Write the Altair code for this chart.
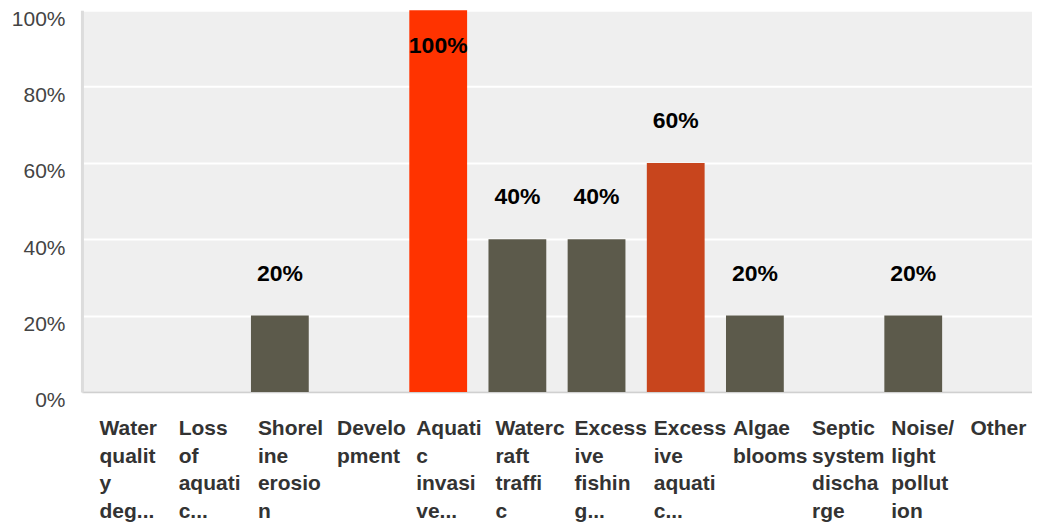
import altair as alt
import pandas as pd

# Category labels, as the wrapped lines shown under each bar
label_lines = [
    ["Water", "qualit", "y", "deg..."],
    ["Loss", "of", "aquati", "c..."],
    ["Shorel", "ine", "erosio", "n"],
    ["Develo", "pment"],
    ["Aquati", "c", "invasi", "ve..."],
    ["Waterc", "raft", "traffi", "c"],
    ["Excess", "ive", "fishin", "g..."],
    ["Excess", "ive", "aquati", "c..."],
    ["Algae", "blooms"],
    ["Septic", "system", "discha", "rge"],
    ["Noise/", "light", "pollut", "ion"],
    ["Other"],
]
values = [0.0, 0.0, 0.2, 0.0, 1.0, 0.4, 0.4, 0.6, 0.2, 0.0, 0.2, 0.0]
bar_colors = ["#5c5a4b", "#5c5a4b", "#5c5a4b", "#5c5a4b", "#ff3300", "#5c5a4b",
              "#5c5a4b", "#c8451d", "#5c5a4b", "#5c5a4b", "#5c5a4b", "#5c5a4b"]
y_ticks = [0.0, 0.1, 0.2, 0.3, 0.4, 0.5, 0.6, 0.7, 0.8, 0.9, 1.0]

cats = ["|".join(l) for l in label_lines]
df = pd.DataFrame({"category": cats, "value": values})

FONT = "Liberation Sans, Arial, sans-serif"

x_enc = alt.X(
    "category:N",
    sort=cats,
    scale=alt.Scale(paddingInner=0.27, paddingOuter=0.135),
    axis=alt.Axis(
        title=None,
        labelExpr="split(datum.label, '|')",
        labelAngle=0,
        labelAlign="left",
        labelBaseline="top",
        labelOffset=-22,
        labelPadding=26,
        labelFontSize=21,
        labelFontWeight="bold",
        labelFont=FONT,
        labelColor="#333333",
        labelLineHeight=27.5,
        labelOverlap=False,
        labelBound=False,
        labelLimit=0,
        ticks=False,
        domainColor="#d0d0d0",
        domainWidth=2,
        grid=False,
    ),
)

y_scale = alt.Scale(domain=[0, 1], nice=False)

bars = alt.Chart(df).mark_bar().encode(
    x=x_enc,
    y=alt.Y(
        "value:Q",
        scale=y_scale,
        axis=alt.Axis(
            title=None,
            values=y_ticks,
            labelExpr="round(datum.value*100) % 20 == 0 ? format(datum.value, '.0%') : ''",
            grid=True,
            gridColor="#ffffff",
            gridWidth=2,
            ticks=False,
            domainColor="#dcdcdc",
            domainWidth=3,
            labelPadding=17,
            labelFontSize=21,
            labelFont=FONT,
            labelColor="#444444",
            labelOffset=9,
            labelOverlap=False,
            labelBound=False,
        ),
    ),
    color=alt.Color("category:N", scale=alt.Scale(domain=cats, range=bar_colors), legend=None),
)

labels = (
    alt.Chart(df)
    .transform_filter("datum.value > 0")
    .transform_calculate(label_y="min(datum.value + 0.11, 0.905)")
    .mark_text(fontSize=23, fontWeight="bold", font=FONT, color="#000000", baseline="middle")
    .encode(
        x=alt.X("category:N", sort=cats),
        y=alt.Y("label_y:Q", scale=y_scale),
        text=alt.Text("value:Q", format=".0%"),
    )
)

chart = (
    alt.layer(bars, labels)
    .properties(width=951, height=382, padding={"left": 3, "top": 0, "right": 0, "bottom": 0})
    .configure_view(fill="#efefef", stroke="transparent")
)

chart.save("out.html", embed_options={"renderer": "svg", "actions": False})
